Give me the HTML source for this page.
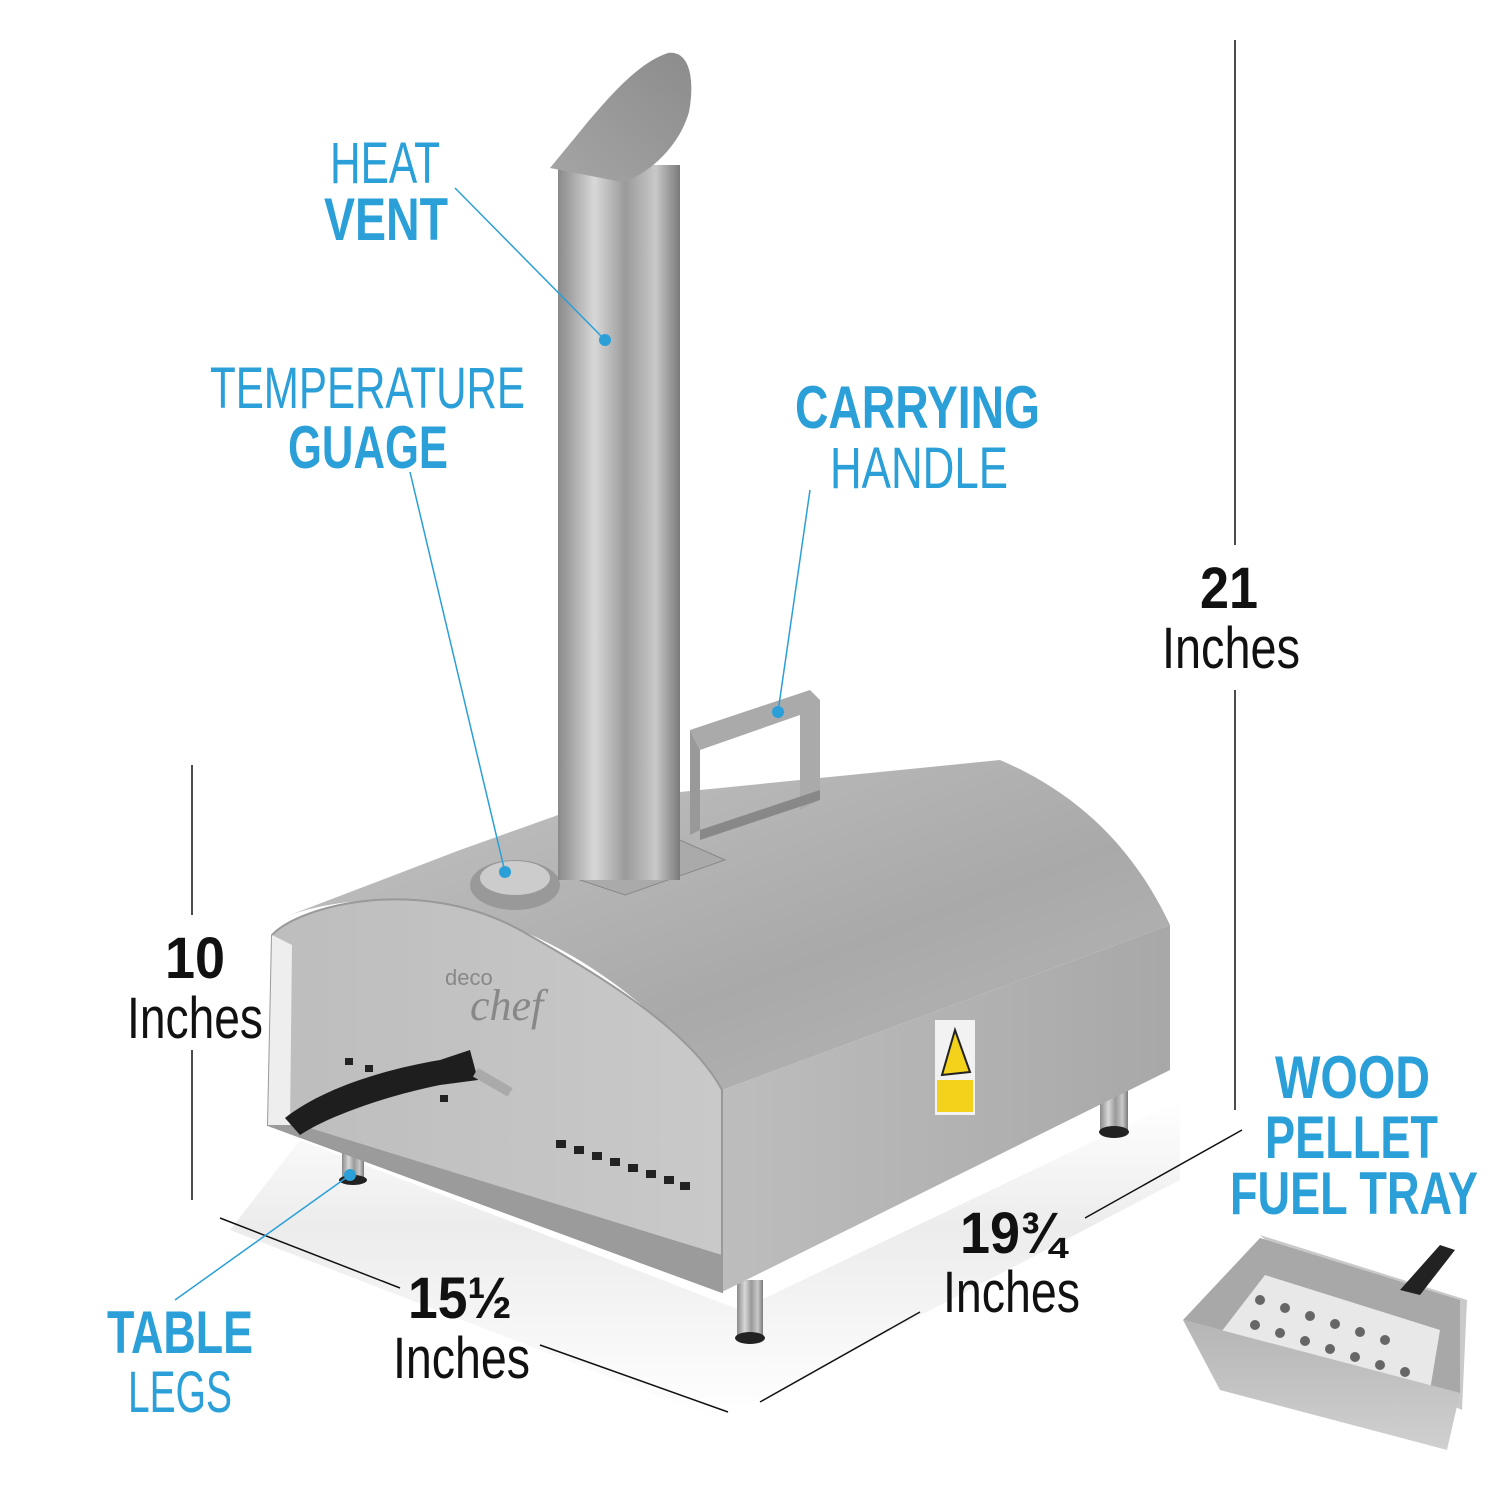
<!DOCTYPE html>
<html><head><meta charset="utf-8"><style>
html,body{margin:0;padding:0;background:#fff}
svg{display:block}
.b{fill:#2a9fd8;font-family:"Liberation Sans",sans-serif}
.k{fill:#111;font-family:"Liberation Sans",sans-serif}
</style></head><body>
<svg width="1500" height="1500" viewBox="0 0 1500 1500" xmlns="http://www.w3.org/2000/svg">
<defs>
<linearGradient id="ch" x1="0" x2="1"><stop offset="0" stop-color="#8a8a8a"/><stop offset=".3" stop-color="#d8d8d8"/><stop offset=".55" stop-color="#9a9a9a"/><stop offset=".8" stop-color="#c8c8c8"/><stop offset="1" stop-color="#7a7a7a"/></linearGradient>
<linearGradient id="lid" x1="0" y1="1" x2="1" y2="0"><stop offset="0" stop-color="#a5a5a5"/><stop offset="1" stop-color="#8c8c8c"/></linearGradient>
<linearGradient id="top" x1="0" y1="0" x2="1" y2="1"><stop offset="0" stop-color="#c4c4c4"/><stop offset=".6" stop-color="#a9a9a9"/><stop offset="1" stop-color="#b8b8b8"/></linearGradient>
<linearGradient id="side" x1="0" x2="1"><stop offset="0" stop-color="#bdbdbd"/><stop offset="1" stop-color="#a8a8a8"/></linearGradient>
<linearGradient id="front" x1="0" x2="1"><stop offset="0" stop-color="#bdbdbd"/><stop offset="1" stop-color="#c9c9c9"/></linearGradient>
<linearGradient id="floor" x1="0" y1="0" x2="0" y2="1"><stop offset="0" stop-color="#fff"/><stop offset=".4" stop-color="#ececec"/><stop offset="1" stop-color="#fff"/></linearGradient>
<linearGradient id="tf" x1="0" y1="0" x2="0" y2="1"><stop offset="0" stop-color="#b5b5b5"/><stop offset="1" stop-color="#d0d0d0"/></linearGradient>
</defs>
<rect width="1500" height="1500" fill="#fff"/>
<polygon points="230,1230 720,1420 1180,1180 1180,1100 740,1310 300,1140" fill="url(#floor)"/>
<!-- legs -->
<rect x="342" y="1140" width="22" height="42" fill="url(#ch)"/><ellipse cx="353" cy="1180" rx="14" ry="5" fill="#222"/>
<rect x="737" y="1280" width="26" height="60" fill="url(#ch)"/><ellipse cx="750" cy="1338" rx="15" ry="6" fill="#222"/>
<rect x="1100" y="1060" width="28" height="70" fill="url(#ch)"/><ellipse cx="1114" cy="1132" rx="15" ry="6" fill="#222"/>
<!-- side face -->
<polygon points="722,1090 1170,925 1170,1070 722,1292" fill="url(#side)"/>
<!-- top dome -->
<path d="M290,915 C420,870 600,930 722,1090 L1170,925 C1130,840 1070,790 1000,760 L600,800 L460,850 Z" fill="url(#top)"/>
<!-- front face -->
<path d="M272,935 C300,905 420,875 520,930 C600,975 690,1030 722,1090 L722,1292 L268,1125 Z" fill="url(#front)" stroke="#999" stroke-width="2"/>
<path d="M272,935 L268,1125 L290,1128 L292,945 Z" fill="#eee"/>
<polygon points="300,1125 722,1255 722,1292 268,1125" fill="#9b9b9b"/>
<!-- vents -->
<g fill="#222"><rect x="556" y="1140" width="10" height="8"/><rect x="574" y="1146" width="10" height="8"/><rect x="592" y="1152" width="10" height="8"/><rect x="610" y="1158" width="10" height="8"/><rect x="628" y="1164" width="10" height="8"/><rect x="646" y="1170" width="10" height="8"/><rect x="664" y="1176" width="10" height="8"/><rect x="680" y="1182" width="10" height="8"/>
<rect x="345" y="1058" width="8" height="7"/><rect x="365" y="1065" width="8" height="7"/><rect x="440" y="1095" width="8" height="7"/></g>
<text x="445" y="985" font-family="Liberation Sans,sans-serif" font-size="22" fill="#888">deco</text>
<text x="470" y="1020" font-family="Liberation Serif,serif" font-style="italic" font-size="44" fill="#888">chef</text>
<!-- door handle -->
<path d="M285,1118 C320,1090 380,1070 440,1060 L470,1050 L478,1080 L440,1085 C390,1095 330,1115 300,1135 Z" fill="#1e1e1e"/>
<rect x="478" y="1068" width="40" height="10" fill="#aaa" transform="rotate(30 478 1068)"/>
<!-- warning label -->
<rect x="935" y="1020" width="40" height="95" fill="#f2f2f2"/><polygon points="955,1030 942,1075 970,1072" fill="#f3d21c" stroke="#222" stroke-width="2"/><rect x="937" y="1080" width="36" height="32" fill="#f3d21c"/>
<!-- handle -->
<polygon points="690,730 810,690 820,700 820,800 800,810 800,715 700,750" fill="#aaa"/>
<polygon points="690,730 700,750 700,830 690,835" fill="#999"/>
<polygon points="700,830 820,790 820,800 700,840" fill="#888"/>
<!-- gauge -->
<ellipse cx="515" cy="885" rx="45" ry="25" fill="#999"/><ellipse cx="515" cy="878" rx="35" ry="17" fill="#ccc"/>
<!-- chimney plate -->
<polygon points="580,880 680,840 725,860 625,895" fill="#aaa" stroke="#888"/>
<!-- chimney -->
<rect x="558" y="165" width="122" height="715" fill="url(#ch)"/>
<path d="M550,168 C590,120 630,65 668,53 C690,50 695,80 689,112 C678,150 645,176 622,182 Z" fill="url(#lid)"/>
<!-- fuel tray -->
<polygon points="1260,1235 1467,1300 1462,1410 1440,1400" fill="#c9c9c9"/>
<polygon points="1183,1320 1260,1238 1460,1300 1460,1393" fill="#a8a8a8"/>
<polygon points="1265,1275 1440,1330 1430,1390 1215,1340" fill="#e8e8e8"/>
<g fill="#666"><circle cx="1260" cy="1300" r="5"/><circle cx="1285" cy="1308" r="5"/><circle cx="1310" cy="1316" r="5"/><circle cx="1335" cy="1324" r="5"/><circle cx="1360" cy="1332" r="5"/><circle cx="1385" cy="1340" r="5"/><circle cx="1255" cy="1325" r="5"/><circle cx="1280" cy="1333" r="5"/><circle cx="1305" cy="1341" r="5"/><circle cx="1330" cy="1349" r="5"/><circle cx="1355" cy="1357" r="5"/><circle cx="1380" cy="1365" r="5"/><circle cx="1405" cy="1372" r="5"/></g>
<polygon points="1183,1320 1460,1393 1447,1450 1220,1390" fill="url(#tf)"/>
<path d="M1400,1290 L1440,1245 L1455,1250 L1420,1295 Z" fill="#222"/>
<!-- dimension lines -->
<g stroke="#111" stroke-width="1.5">
<line x1="1235" y1="40" x2="1235" y2="545"/><line x1="1235" y1="690" x2="1235" y2="1110"/>
<line x1="192" y1="765" x2="192" y2="915"/><line x1="192" y1="1050" x2="192" y2="1200"/>
<line x1="220" y1="1218" x2="400" y2="1288"/><line x1="540" y1="1345" x2="728" y2="1412"/>
<line x1="760" y1="1402" x2="920" y2="1312"/><line x1="1085" y1="1218" x2="1242" y2="1130"/>
</g>
<!-- blue leader lines -->
<g stroke="#2a9fd8" stroke-width="1.5">
<line x1="455" y1="188" x2="605" y2="340"/><line x1="410" y1="472" x2="505" y2="872"/>
<line x1="810" y1="490" x2="778" y2="712"/><line x1="175" y1="1300" x2="350" y2="1175"/>
</g>
<g fill="#2a9fd8"><circle cx="605" cy="340" r="6"/><circle cx="505" cy="872" r="6"/><circle cx="778" cy="712" r="6"/><circle cx="350" cy="1175" r="6"/></g>
<!-- labels -->
<text class="b" x="330" y="183" font-size="58" textLength="110" lengthAdjust="spacingAndGlyphs">HEAT</text>
<text class="b" x="324" y="240" font-size="60" font-weight="bold" textLength="124" lengthAdjust="spacingAndGlyphs">VENT</text>
<text class="b" x="210" y="408" font-size="58" textLength="315" lengthAdjust="spacingAndGlyphs">TEMPERATURE</text>
<text class="b" x="288" y="468" font-size="60" font-weight="bold" textLength="160" lengthAdjust="spacingAndGlyphs">GUAGE</text>
<text class="b" x="795" y="428" font-size="60" font-weight="bold" textLength="245" lengthAdjust="spacingAndGlyphs">CARRYING</text>
<text class="b" x="830" y="488" font-size="58" textLength="178" lengthAdjust="spacingAndGlyphs">HANDLE</text>
<text class="k" x="1200" y="608" font-size="58" font-weight="bold" textLength="58" lengthAdjust="spacingAndGlyphs">21</text>
<text class="k" x="1162" y="668" font-size="58" textLength="138" lengthAdjust="spacingAndGlyphs">Inches</text>
<text class="k" x="165" y="978" font-size="58" font-weight="bold" textLength="60" lengthAdjust="spacingAndGlyphs">10</text>
<text class="k" x="127" y="1038" font-size="58" textLength="136" lengthAdjust="spacingAndGlyphs">Inches</text>
<text class="b" x="1275" y="1098" font-size="60" font-weight="bold" textLength="155" lengthAdjust="spacingAndGlyphs">WOOD</text>
<text class="b" x="1265" y="1158" font-size="60" font-weight="bold" textLength="173" lengthAdjust="spacingAndGlyphs">PELLET</text>
<text class="b" x="1230" y="1214" font-size="60" font-weight="bold" textLength="248" lengthAdjust="spacingAndGlyphs">FUEL TRAY</text>
<text class="k" x="960" y="1253" font-size="58" font-weight="bold" textLength="105" lengthAdjust="spacingAndGlyphs">19¾</text>
<text class="k" x="943" y="1312" font-size="58" textLength="137" lengthAdjust="spacingAndGlyphs">Inches</text>
<text class="k" x="408" y="1318" font-size="58" font-weight="bold" textLength="104" lengthAdjust="spacingAndGlyphs">15½</text>
<text class="k" x="393" y="1378" font-size="58" textLength="137" lengthAdjust="spacingAndGlyphs">Inches</text>
<text class="b" x="107" y="1353" font-size="60" font-weight="bold" textLength="146" lengthAdjust="spacingAndGlyphs">TABLE</text>
<text class="b" x="128" y="1412" font-size="58" textLength="104" lengthAdjust="spacingAndGlyphs">LEGS</text>
</svg>
</body></html>
